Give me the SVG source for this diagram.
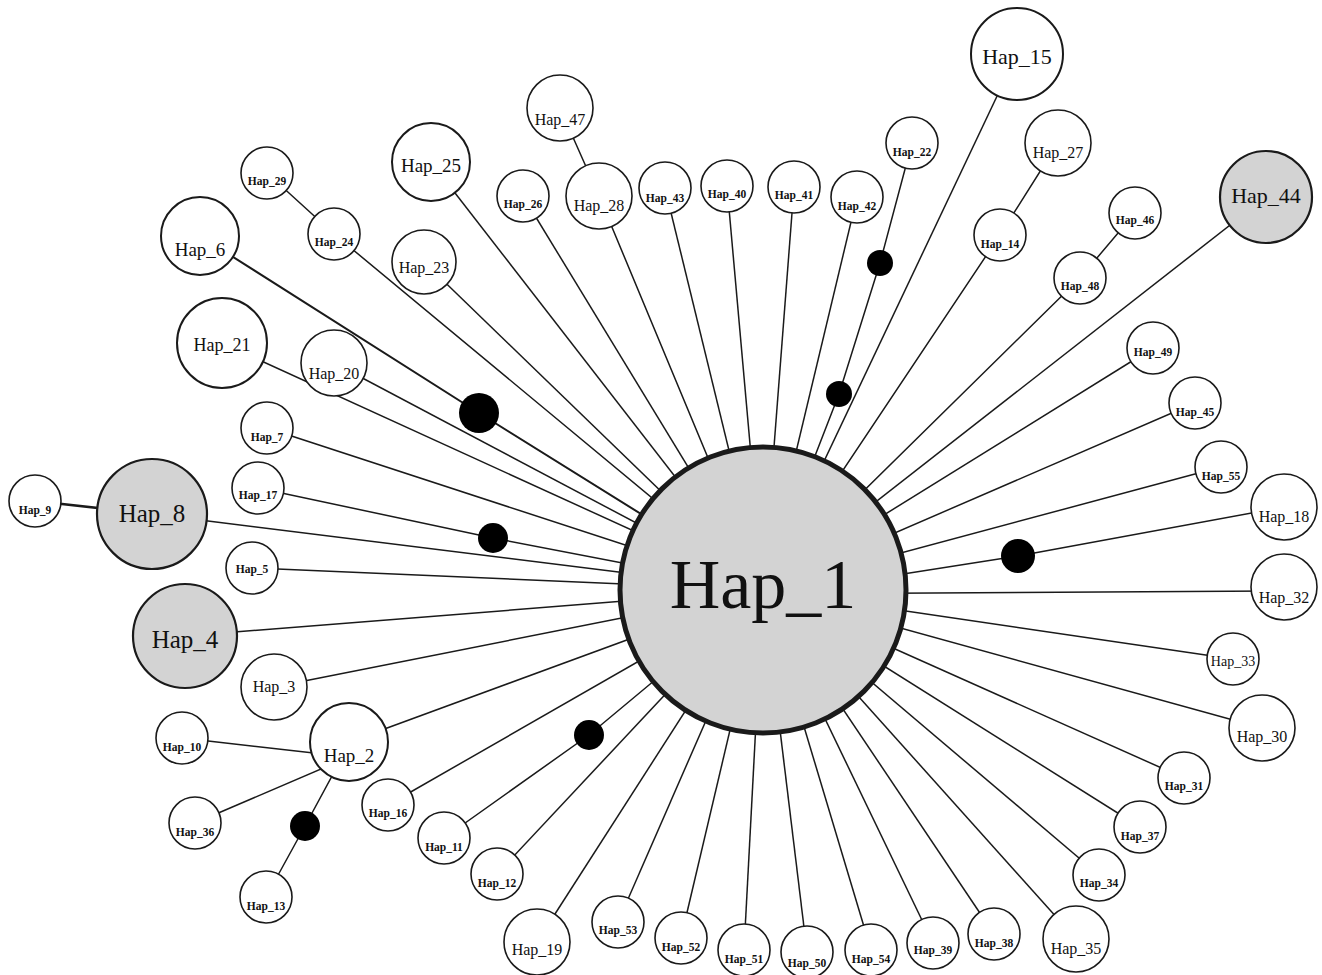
<svg xmlns="http://www.w3.org/2000/svg" width="1322" height="975" viewBox="0 0 1322 975">
<style>
.e{stroke:#1a1a1a;stroke-width:1.5;fill:none}
.n{fill:#fff;stroke:#1a1a1a;stroke-width:1.6}
.g{fill:#d3d3d3;stroke:#1a1a1a;stroke-width:2.2}
.d{fill:#000}
text{font-family:"Liberation Serif","Times New Roman",serif;fill:#111;text-anchor:middle}
.s{font-size:11.5px;font-weight:bold}
.m{font-size:16px}
</style>
<rect width="1322" height="975" fill="#fff"/>
<g id="connectors">
<polyline class="e" points="267,173 334,234 763,590"/>
<polyline class="e" style="stroke-width:2" points="200,236 479,413 763,590"/>
<line class="e" x1="222" y1="343" x2="763" y2="590"/>
<line class="e" x1="334" y1="363" x2="763" y2="590"/>
<line class="e" x1="431" y1="162" x2="763" y2="590"/>
<line class="e" x1="424" y1="262" x2="763" y2="590"/>
<line class="e" x1="267" y1="428" x2="763" y2="590"/>
<polyline class="e" points="258,488 493,538 763,590"/>
<line class="e" style="stroke-width:2.6" x1="35" y1="501" x2="152" y2="514"/>
<line class="e" x1="152" y1="514" x2="763" y2="590"/>
<line class="e" x1="252" y1="568" x2="763" y2="590"/>
<line class="e" x1="185" y1="636" x2="763" y2="590"/>
<line class="e" x1="274" y1="687" x2="763" y2="590"/>
<line class="e" x1="182" y1="738" x2="349" y2="757"/>
<line class="e" x1="195" y1="823" x2="349" y2="757"/>
<polyline class="e" points="345,752 305,826 266,897"/>
<line class="e" x1="349" y1="742" x2="763" y2="590"/>
<line class="e" x1="388" y1="805" x2="763" y2="590"/>
<polyline class="e" points="444,838 589,735 763,590"/>
<line class="e" x1="497" y1="874" x2="763" y2="590"/>
<line class="e" x1="537" y1="942" x2="763" y2="590"/>
<line class="e" x1="618" y1="922" x2="763" y2="590"/>
<line class="e" x1="681" y1="938" x2="763" y2="590"/>
<line class="e" x1="744" y1="950" x2="763" y2="590"/>
<line class="e" x1="807" y1="952" x2="763" y2="590"/>
<line class="e" x1="871" y1="950" x2="763" y2="590"/>
<line class="e" x1="933" y1="943" x2="763" y2="590"/>
<line class="e" x1="994" y1="934" x2="763" y2="590"/>
<line class="e" x1="1076" y1="939" x2="763" y2="590"/>
<line class="e" x1="1099" y1="875" x2="763" y2="590"/>
<line class="e" x1="1140" y1="827" x2="763" y2="590"/>
<line class="e" x1="1184" y1="778" x2="763" y2="590"/>
<line class="e" x1="1262" y1="728" x2="763" y2="590"/>
<line class="e" x1="1233" y1="659" x2="763" y2="590"/>
<line class="e" x1="1284" y1="591" x2="763" y2="594"/>
<polyline class="e" points="1284,507 1018,556 763,596"/>
<line class="e" x1="1221" y1="467" x2="763" y2="590"/>
<line class="e" x1="1195" y1="403" x2="763" y2="590"/>
<line class="e" x1="1153" y1="348" x2="763" y2="590"/>
<line class="e" x1="1266" y1="197" x2="763" y2="590"/>
<polyline class="e" points="1135,213 1080,278 763,590"/>
<polyline class="e" points="1058,143 1000,235 763,590"/>
<line class="e" x1="1017" y1="54" x2="763" y2="590"/>
<polyline class="e" points="912,143 880,263 839,394 763,590"/>
<line class="e" x1="857" y1="197" x2="763" y2="590"/>
<line class="e" x1="794" y1="187" x2="763" y2="590"/>
<line class="e" x1="727" y1="186" x2="763" y2="590"/>
<line class="e" x1="665" y1="188" x2="763" y2="590"/>
<polyline class="e" points="560,108 599,196 763,590"/>
<line class="e" x1="523" y1="196" x2="763" y2="590"/>
</g>
<g id="mutations">
<circle class="d" cx="479" cy="413" r="20"/>
<circle class="d" cx="493" cy="538" r="15"/>
<circle class="d" cx="589" cy="735" r="15"/>
<circle class="d" cx="305" cy="826" r="15"/>
<circle class="d" cx="839" cy="394" r="13"/>
<circle class="d" cx="880" cy="263" r="13"/>
<circle class="d" cx="1018" cy="556" r="17"/>
</g>
<g id="Hap_1"><circle class="g" style="stroke-width:5" cx="763" cy="590" r="143"/><text x="763" y="608" style="font-size:70px">Hap_1</text></g>
<g id="Hap_8"><circle class="g" cx="152" cy="514" r="55"/><text x="152" y="522" style="font-size:25px">Hap_8</text></g>
<g id="Hap_4"><circle class="g" cx="185" cy="636" r="52"/><text x="185" y="648" style="font-size:25px">Hap_4</text></g>
<g id="Hap_44"><circle class="g" cx="1266" cy="197" r="46"/><text x="1266" y="203" style="font-size:22px">Hap_44</text></g>
<g id="Hap_15"><circle class="n" style="stroke-width:2" cx="1017" cy="54" r="46"/><text x="1017" y="64" style="font-size:22px">Hap_15</text></g>
<g id="Hap_21"><circle class="n" style="stroke-width:2" cx="222" cy="343" r="45"/><text x="222" y="351" style="font-size:18px">Hap_21</text></g>
<g id="Hap_6"><circle class="n" style="stroke-width:2" cx="200" cy="236" r="39"/><text x="200" y="256" style="font-size:19px">Hap_6</text></g>
<g id="Hap_25"><circle class="n" style="stroke-width:2" cx="431" cy="162" r="39"/><text x="431" y="172" style="font-size:19px">Hap_25</text></g>
<g id="Hap_2"><circle class="n" style="stroke-width:2" cx="349" cy="742" r="39"/><text x="349" y="762" style="font-size:19px">Hap_2</text></g>
<g id="Hap_20"><circle class="n" cx="334" cy="363" r="33"/><text class="m" x="334" y="379">Hap_20</text></g>
<g id="Hap_23"><circle class="n" cx="424" cy="262" r="32"/><text class="m" x="424" y="273">Hap_23</text></g>
<g id="Hap_3"><circle class="n" cx="274" cy="687" r="33"/><text class="m" x="274" y="692">Hap_3</text></g>
<g id="Hap_19"><circle class="n" cx="537" cy="942" r="33"/><text class="m" x="537" y="955">Hap_19</text></g>
<g id="Hap_35"><circle class="n" cx="1076" cy="939" r="33"/><text class="m" x="1076" y="954">Hap_35</text></g>
<g id="Hap_30"><circle class="n" cx="1262" cy="728" r="33"/><text class="m" x="1262" y="742">Hap_30</text></g>
<g id="Hap_32"><circle class="n" cx="1284" cy="587" r="33"/><text class="m" x="1284" y="603">Hap_32</text></g>
<g id="Hap_18"><circle class="n" cx="1284" cy="507" r="33"/><text class="m" x="1284" y="522">Hap_18</text></g>
<g id="Hap_27"><circle class="n" cx="1058" cy="143" r="33"/><text class="m" x="1058" y="158">Hap_27</text></g>
<g id="Hap_28"><circle class="n" cx="599" cy="196" r="33"/><text class="m" x="599" y="211">Hap_28</text></g>
<g id="Hap_47"><circle class="n" cx="560" cy="108" r="33"/><text class="m" x="560" y="125">Hap_47</text></g>
<g id="Hap_33"><circle class="n" cx="1233" cy="659" r="26"/><text x="1233" y="666" style="font-size:14px">Hap_33</text></g>
<g id="Hap_29"><circle class="n" cx="267" cy="173" r="26"/><text class="s" x="267" y="185">Hap_29</text></g>
<g id="Hap_24"><circle class="n" cx="334" cy="234" r="26"/><text class="s" x="334" y="246">Hap_24</text></g>
<g id="Hap_7"><circle class="n" cx="267" cy="428" r="26"/><text class="s" x="267" y="441">Hap_7</text></g>
<g id="Hap_9"><circle class="n" cx="35" cy="501" r="26"/><text class="s" x="35" y="514">Hap_9</text></g>
<g id="Hap_17"><circle class="n" cx="258" cy="488" r="26"/><text class="s" x="258" y="499">Hap_17</text></g>
<g id="Hap_5"><circle class="n" cx="252" cy="568" r="26"/><text class="s" x="252" y="573">Hap_5</text></g>
<g id="Hap_10"><circle class="n" cx="182" cy="738" r="26"/><text class="s" x="182" y="751">Hap_10</text></g>
<g id="Hap_36"><circle class="n" cx="195" cy="823" r="26"/><text class="s" x="195" y="836">Hap_36</text></g>
<g id="Hap_13"><circle class="n" cx="266" cy="897" r="26"/><text class="s" x="266" y="910">Hap_13</text></g>
<g id="Hap_16"><circle class="n" cx="388" cy="805" r="26"/><text class="s" x="388" y="817">Hap_16</text></g>
<g id="Hap_11"><circle class="n" cx="444" cy="838" r="26"/><text class="s" x="444" y="851">Hap_11</text></g>
<g id="Hap_12"><circle class="n" cx="497" cy="874" r="26"/><text class="s" x="497" y="887">Hap_12</text></g>
<g id="Hap_53"><circle class="n" cx="618" cy="922" r="26"/><text class="s" x="618" y="934">Hap_53</text></g>
<g id="Hap_52"><circle class="n" cx="681" cy="938" r="26"/><text class="s" x="681" y="951">Hap_52</text></g>
<g id="Hap_51"><circle class="n" cx="744" cy="950" r="26"/><text class="s" x="744" y="963">Hap_51</text></g>
<g id="Hap_50"><circle class="n" cx="807" cy="952" r="26"/><text class="s" x="807" y="967">Hap_50</text></g>
<g id="Hap_54"><circle class="n" cx="871" cy="950" r="26"/><text class="s" x="871" y="963">Hap_54</text></g>
<g id="Hap_39"><circle class="n" cx="933" cy="943" r="26"/><text class="s" x="933" y="954">Hap_39</text></g>
<g id="Hap_38"><circle class="n" cx="994" cy="934" r="26"/><text class="s" x="994" y="947">Hap_38</text></g>
<g id="Hap_34"><circle class="n" cx="1099" cy="875" r="26"/><text class="s" x="1099" y="887">Hap_34</text></g>
<g id="Hap_37"><circle class="n" cx="1140" cy="827" r="26"/><text class="s" x="1140" y="840">Hap_37</text></g>
<g id="Hap_31"><circle class="n" cx="1184" cy="778" r="26"/><text class="s" x="1184" y="790">Hap_31</text></g>
<g id="Hap_55"><circle class="n" cx="1221" cy="467" r="26"/><text class="s" x="1221" y="480">Hap_55</text></g>
<g id="Hap_45"><circle class="n" cx="1195" cy="403" r="26"/><text class="s" x="1195" y="416">Hap_45</text></g>
<g id="Hap_49"><circle class="n" cx="1153" cy="348" r="26"/><text class="s" x="1153" y="356">Hap_49</text></g>
<g id="Hap_46"><circle class="n" cx="1135" cy="213" r="26"/><text class="s" x="1135" y="224">Hap_46</text></g>
<g id="Hap_48"><circle class="n" cx="1080" cy="278" r="26"/><text class="s" x="1080" y="290">Hap_48</text></g>
<g id="Hap_14"><circle class="n" cx="1000" cy="235" r="26"/><text class="s" x="1000" y="248">Hap_14</text></g>
<g id="Hap_22"><circle class="n" cx="912" cy="143" r="26"/><text class="s" x="912" y="156">Hap_22</text></g>
<g id="Hap_42"><circle class="n" cx="857" cy="197" r="26"/><text class="s" x="857" y="210">Hap_42</text></g>
<g id="Hap_41"><circle class="n" cx="794" cy="187" r="26"/><text class="s" x="794" y="199">Hap_41</text></g>
<g id="Hap_40"><circle class="n" cx="727" cy="186" r="26"/><text class="s" x="727" y="198">Hap_40</text></g>
<g id="Hap_43"><circle class="n" cx="665" cy="188" r="26"/><text class="s" x="665" y="202">Hap_43</text></g>
<g id="Hap_26"><circle class="n" cx="523" cy="196" r="26"/><text class="s" x="523" y="208">Hap_26</text></g>
</svg>
